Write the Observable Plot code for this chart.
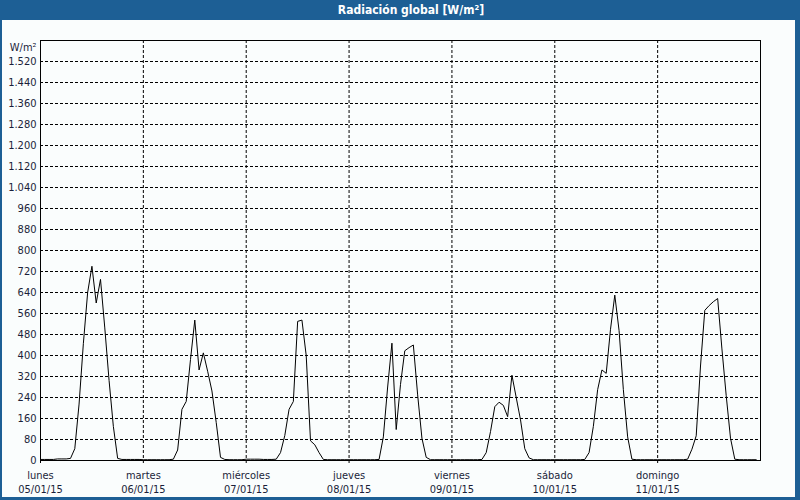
<!DOCTYPE html>
<html>
<head>
<meta charset="utf-8">
<script src="https://cdn.jsdelivr.net/npm/d3@7"></script>
<script src="https://cdn.jsdelivr.net/npm/@observablehq/plot@0.6"></script>
<style>
  html, body { margin: 0; padding: 0; background: #1d5f95; }
  #win { position: relative; width: 800px; height: 500px; background: #1d5f95; overflow: hidden; }
  #title { position: absolute; left: 0; top: 0; width: 800px; height: 20px; line-height: 20px;
           color: #ffffff; font-family: "DejaVu Sans Condensed", "DejaVu Sans", sans-serif;
           font-weight: bold; font-size: 12px; text-align: center; padding-left: 22px; box-sizing: border-box; }
  #panel { position: absolute; left: 2px; top: 20px; width: 793px; height: 477px; background: #fafdfd; }
  #panel svg { overflow: visible; }
</style>
</head>
<body>
<div id="win">
  <div id="title">Radiación global [W/m²]</div>
  <div id="panel"></div>
</div>
<script>
// Hourly global radiation (W/m²), one array per day, hours 0..23
const lunes     = [4,4,4,4,6,6,6,8,45,215,445,640,740,600,690,505,305,130,8,4,4,4,4,4];
const martes    = [3,3,3,3,3,3,3,5,40,195,225,385,535,345,410,340,265,145,12,4,3,3,3,3];
const miercoles = [5,5,5,5,4,4,4,5,30,95,195,225,530,535,400,75,60,30,4,3,3,3,3,3];
const jueves    = [3,3,3,3,3,3,3,4,90,280,447,118,290,418,430,440,250,85,12,3,3,3,3,3];
const viernes   = [3,3,3,3,3,3,3,4,30,110,205,222,210,167,325,240,155,45,10,3,3,3,3,3];
const sabado    = [3,3,3,3,3,3,3,4,30,130,270,345,332,500,630,495,270,90,5,3,3,3,3,3];
const domingo   = [3,3,3,3,3,3,3,5,43,94,360,572,590,605,617,425,247,85,5,3,3,3,3,3];

const dayNames  = ["lunes","martes","miércoles","jueves","viernes","sábado","domingo"];
const dayDates  = ["05/01/15","06/01/15","07/01/15","08/01/15","09/01/15","10/01/15","11/01/15"];
const yTicks    = [0,80,160,240,320,400,480,560,640,720,800,880,960,1040,1120,1200,1280,1360,1440,1520];
const yUnit     = "W/m²";

const days = [lunes, martes, miercoles, jueves, viernes, sabado, domingo];
const data = days.flatMap((vals, di) => vals.map((v, h) => ({hour: di * 24 + h, value: v})));
const dayTicks = dayNames.map((_, i) => i * 24);

const esLocale = d3.formatLocale({decimal: ",", thousands: ".", grouping: [3], currency: ["", " €"]});
const fmt = esLocale.format(",d");
const ink = "#1a1f3a";

const chart = Plot.plot({
  width: 793,
  height: 477,
  marginLeft: 38,
  marginRight: 35,
  marginTop: 20,
  marginBottom: 37,
  style: {fontFamily: "'DejaVu Sans Condensed', 'DejaVu Sans', sans-serif", fontSize: "11px", color: ink, background: "transparent", overflow: "visible"},
  x: {domain: [0, 168]},
  y: {domain: [0, 1600]},
  marks: [
    Plot.ruleY(yTicks.filter(d => d > 0), {stroke: "#000", strokeDasharray: "3,2"}),
    Plot.ruleX(dayTicks.filter(d => d > 0), {stroke: "#000", strokeDasharray: "3,2"}),
    Plot.frame({stroke: "#000"}),
    Plot.axisY({ticks: yTicks, tickFormat: fmt, tickSize: 0, tickPadding: 4, label: null, fill: ink}),
    Plot.axisX({ticks: dayTicks, tickFormat: d => `${dayNames[d / 24]}\n${dayDates[d / 24]}`,
                tickSize: 3, tickPadding: 5, lineHeight: 1.28, label: null, stroke: "#000", fill: ink}),
    Plot.text([yUnit], {text: d => d, frameAnchor: "top-left", dx: -4, dy: 7, textAnchor: "end", lineAnchor: "middle", fill: ink}),
    Plot.line(data, {x: "hour", y: "value", stroke: "#000", strokeWidth: 1})
  ]
});
document.getElementById("panel").appendChild(chart);
</script>
</body>
</html>
